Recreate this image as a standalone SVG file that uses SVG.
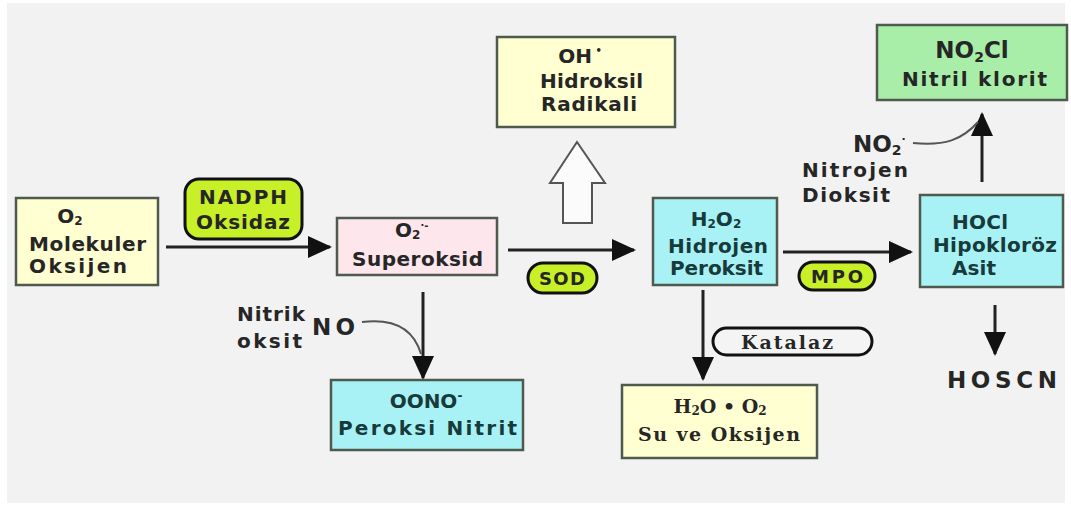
<svg xmlns="http://www.w3.org/2000/svg" width="1071" height="510" viewBox="0 0 1071 510">
<style>
.t{font-family:"DejaVu Sans","Liberation Sans",sans-serif;font-weight:bold;font-size:20px;fill:#262626;}
.s{font-size:18px;}
.tc{fill:#173a3a;}
.sr{font-family:"DejaVu Serif","Liberation Serif",serif;font-weight:bold;font-size:19px;fill:#262626;}
.box{stroke:#4f5a4f;stroke-width:2.5;}
.yel{fill:#ffffd2;}
.cy{fill:#a8f2f6;}
.pk{fill:#fde6ec;}
.gr{fill:#a8eea8;}
.pill{fill:#c8f028;stroke:#111;stroke-width:3;}
.ln{stroke:#222;stroke-width:3;fill:none;}
.cv{stroke:#555;stroke-width:2;fill:none;}
.big{font-family:"DejaVu Sans","Liberation Sans",sans-serif;font-weight:bold;font-size:23px;fill:#262626;}
</style>
<defs>
<marker id="ah" markerUnits="userSpaceOnUse" markerWidth="24" markerHeight="22" refX="22" refY="11" orient="auto">
<path d="M0,0 L24,11 L0,22 z" fill="#111"/>
</marker>
</defs>
<rect x="0" y="0" width="1071" height="510" fill="#ffffff"/>
<rect x="7" y="3" width="1058" height="500" fill="#f2f2f2"/>

<g id="connectors">
<line class="ln" x1="166" y1="247" x2="330" y2="247" marker-end="url(#ah)"/>
<line class="ln" x1="508" y1="250" x2="634" y2="250" marker-end="url(#ah)"/>
<line class="ln" x1="783" y1="252" x2="911" y2="252" marker-end="url(#ah)"/>
<line class="ln" x1="423" y1="292" x2="423" y2="378" marker-end="url(#ah)"/>
<line class="ln" x1="703" y1="290" x2="703" y2="379" marker-end="url(#ah)"/>
<line class="ln" x1="995" y1="305" x2="995" y2="354" marker-end="url(#ah)"/>
<line class="ln" x1="982" y1="182" x2="982" y2="114" marker-end="url(#ah)"/>
<path class="cv" d="M362,322 C395,318 414,330 421,354"/>
<path class="cv" d="M913,143 C945,146 962,140 978,122"/>
<path d="M577,142 L605,183 L592,183 L592,223 L563,223 L563,183 L550,183 Z" fill="#fbfbfb" stroke="#555" stroke-width="2"/>
</g>

<g id="o2">
<rect class="box yel" x="16" y="198" width="142" height="87"/>
<text class="t" x="70" y="223" text-anchor="middle" font-size="18">O<tspan font-size="12" dy="2">2</tspan></text>
<text class="t" x="29" y="251" textLength="117" lengthAdjust="spacing">Molekuler</text>
<text class="t" x="29" y="273" textLength="98" lengthAdjust="spacing">Oksijen</text>
</g>

<g id="nadph">
<rect class="pill" x="185" y="179" width="117" height="60" rx="14"/>
<text class="t" x="243" y="204" text-anchor="middle" fill="#1c2a00" textLength="88" lengthAdjust="spacing">NADPH</text>
<text class="t" x="243" y="229" text-anchor="middle" fill="#1c2a00" textLength="94" lengthAdjust="spacing">Oksidaz</text>
</g>

<g id="superoksid">
<rect class="box pk" x="337" y="218" width="160" height="57"/>
<text class="t" x="395" y="237" font-size="18">O<tspan font-size="12" dy="2">2</tspan><tspan font-size="10" dy="-10">·-</tspan></text>
<text class="t" x="352" y="266" textLength="131" lengthAdjust="spacing">Superoksid</text>
</g>

<g id="sod">
<rect class="pill" x="528" y="263" width="69" height="30" rx="15"/>
<text class="t s" x="562" y="285" text-anchor="middle" fill="#1c2a00" textLength="46" lengthAdjust="spacing">SOD</text>
</g>

<g id="oh">
<rect class="box yel" x="497" y="37" width="178" height="90"/>
<text class="t" x="580" y="63" text-anchor="middle">OH<tspan font-size="10" dy="-9"> •</tspan></text>
<text class="t" x="540" y="88" textLength="103" lengthAdjust="spacing">Hidroksil</text>
<text class="t" x="541" y="111" textLength="96" lengthAdjust="spacing">Radikali</text>
</g>

<g id="h2o2">
<rect class="box cy" x="653" y="198" width="124" height="87"/>
<text class="t tc" x="716" y="226" text-anchor="middle" font-size="18">H<tspan font-size="12" dy="2">2</tspan><tspan dy="-2">O</tspan><tspan font-size="12" dy="2">2</tspan></text>
<text class="t tc" x="668" y="253" textLength="100" lengthAdjust="spacing">Hidrojen</text>
<text class="t tc" x="670" y="275" textLength="93" lengthAdjust="spacing">Peroksit</text>
</g>

<g id="mpo">
<rect class="pill" x="799" y="262" width="76" height="28" rx="14"/>
<text class="t s" x="837" y="283" text-anchor="middle" fill="#1c2a00" textLength="52" lengthAdjust="spacing">MPO</text>
</g>

<g id="hocl">
<rect class="box cy" x="920" y="195" width="143" height="92"/>
<text class="t tc" x="952" y="229" textLength="56" lengthAdjust="spacing">HOCl</text>
<text class="t tc" x="933" y="252" textLength="124" lengthAdjust="spacing">Hipokloröz</text>
<text class="t tc" x="952" y="275" textLength="44" lengthAdjust="spacing">Asit</text>
</g>

<g id="hoscn">
<text class="big" x="947" y="388" font-size="26" textLength="110" lengthAdjust="spacing">HOSCN</text>
</g>

<g id="no2cl">
<rect class="box gr" x="877" y="25" width="190" height="75"/>
<text class="big" x="972" y="58" text-anchor="middle" fill="#1f3a1f">NO<tspan font-size="14" dy="4">2</tspan><tspan dy="-4">Cl</tspan></text>
<text class="t" x="902" y="86" textLength="145" lengthAdjust="spacing" fill="#1f3a1f">Nitril klorit</text>
</g>

<g id="no2">
<text class="big" x="853" y="152">NO<tspan font-size="14" dy="3">2</tspan><tspan font-size="11" dy="-12">·</tspan></text>
<text class="t" x="802" y="177" textLength="106" lengthAdjust="spacing">Nitrojen</text>
<text class="t" x="802" y="202" textLength="88" lengthAdjust="spacing">Dioksit</text>
</g>

<g id="no">
<text class="t" x="237" y="321" textLength="68" lengthAdjust="spacing">Nitrik</text>
<text class="t" x="237" y="348" textLength="65" lengthAdjust="spacing">oksit</text>
<text class="big" x="312" y="335" textLength="43" lengthAdjust="spacing">NO</text>
</g>

<g id="oono">
<rect class="box cy" x="331" y="380" width="192" height="70"/>
<text class="t tc" x="426" y="408" text-anchor="middle">OONO<tspan font-size="12" dy="-8">-</tspan></text>
<text class="t tc" x="338" y="435" textLength="179" lengthAdjust="spacing">Peroksi Nitrit</text>
</g>

<g id="katalaz">
<rect x="713" y="328" width="159" height="27" rx="13.5" fill="#f4f4f4" stroke="#111" stroke-width="3"/>
<text class="sr" x="787" y="349" text-anchor="middle" textLength="92" lengthAdjust="spacing">Katalaz</text>
</g>

<g id="su">
<rect class="box yel" x="622" y="385" width="195" height="73"/>
<text class="sr" x="720" y="413" text-anchor="middle" font-size="18">H<tspan font-size="12" dy="2">2</tspan><tspan dy="-2">O • O</tspan><tspan font-size="12" dy="2">2</tspan></text>
<text class="sr" x="638" y="441" textLength="162" lengthAdjust="spacing">Su ve Oksijen</text>
</g>
</svg>
